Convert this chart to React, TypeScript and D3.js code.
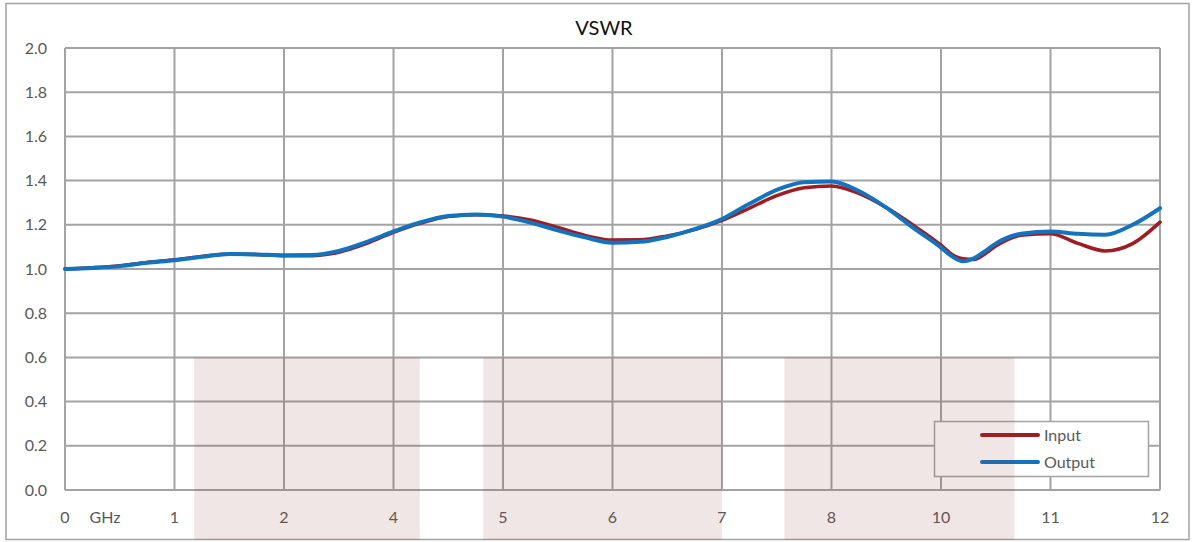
import { useEffect, useRef } from 'react';
import * as d3 from 'd3';

// x positions are category slots (0..10), labelled by xLabels
const xLabels = ['0', '1', '2', '4', '5', '6', '7', '8', '10', '11', '12'];
const yTicks = [0, 0.2, 0.4, 0.6, 0.8, 1.0, 1.2, 1.4, 1.6, 1.8, 2.0];

const slots = [
  0, 0.25, 0.5, 0.75, 1, 1.25, 1.5, 1.75, 2, 2.25, 2.5, 2.75, 3, 3.25, 3.5, 3.75,
  4, 4.25, 4.5, 4.75, 5, 5.25, 5.5, 5.75, 6, 6.25, 6.5, 6.75, 7, 7.25, 7.5, 7.75,
  8, 8.1, 8.2, 8.3, 8.4, 8.5, 8.75, 9, 9.25, 9.5, 9.75, 10,
];
const inputVswr = [
  1.0, 1.006, 1.015, 1.03, 1.042, 1.057, 1.068, 1.066, 1.06, 1.06, 1.076, 1.115,
  1.166, 1.208, 1.238, 1.245, 1.24, 1.222, 1.188, 1.152, 1.131, 1.132, 1.15, 1.178,
  1.22, 1.275, 1.332, 1.368, 1.376, 1.342, 1.278, 1.197, 1.108, 1.066, 1.046, 1.043,
  1.068, 1.104, 1.154, 1.16, 1.116, 1.082, 1.115, 1.212,
];
const outputVswr = [
  1.0, 1.005, 1.013, 1.028, 1.04, 1.055, 1.068, 1.066, 1.062, 1.063, 1.082, 1.122,
  1.17, 1.212, 1.24, 1.247, 1.237, 1.21, 1.175, 1.143, 1.119, 1.123, 1.145, 1.18,
  1.226, 1.295, 1.358, 1.393, 1.396, 1.353, 1.278, 1.185, 1.097, 1.057, 1.035, 1.048,
  1.08, 1.115, 1.161, 1.17, 1.159, 1.155, 1.2, 1.275,
];
const bands = [
  [1.18, 3.24],
  [3.82, 6.0],
  [6.57, 8.67],
];
const bandTop = 0.6;

const W = 1196;
const H = 542;
const FONT = 'Lato, "Liberation Sans", sans-serif';
const GRID = '#a3a3a3';

export default function App() {
  const svgRef = useRef<SVGSVGElement>(null);

  useEffect(() => {
    if (!svgRef.current) return;
    const svg = d3.select(svgRef.current);
    svg.selectAll('*').remove();

    const left = 65, right = 1160, top = 48, bottom = 490;
    const x = d3.scaleLinear().domain([0, 10]).range([left, right]);
    const y = d3.scaleLinear().domain([0, 2]).range([bottom, top]);

    // outer frame
    svg.append('rect')
      .attr('x', 6).attr('y', 3.5).attr('width', 1183).attr('height', 536)
      .attr('fill', '#fff').attr('stroke', GRID).attr('stroke-width', 1.5);

    svg.append('text')
      .attr('x', 604).attr('y', 35)
      .attr('text-anchor', 'middle')
      .style('font-family', FONT).style('font-size', '20px').style('fill', '#111')
      .text('VSWR');

    // grid
    const g = svg.append('g');
    yTicks.forEach(t => {
      g.append('line')
        .attr('x1', left).attr('x2', right).attr('y1', y(t)).attr('y2', y(t))
        .attr('stroke', GRID).attr('stroke-width', 2);
      g.append('text')
        .attr('x', 47).attr('y', y(t)).attr('dy', '0.35em')
        .attr('text-anchor', 'end')
        .style('font-family', FONT).style('font-size', '16px').style('fill', '#595959')
        .text(t.toFixed(1));
    });
    xLabels.forEach((lab, i) => {
      g.append('line')
        .attr('x1', x(i)).attr('x2', x(i)).attr('y1', top).attr('y2', bottom)
        .attr('stroke', GRID).attr('stroke-width', 2);
      g.append('text')
        .attr('x', x(i)).attr('y', 523)
        .attr('text-anchor', 'middle')
        .style('font-family', FONT).style('font-size', '16px').style('fill', '#595959')
        .text(lab);
    });
    g.append('text')
      .attr('x', 105).attr('y', 523)
      .attr('text-anchor', 'middle')
      .style('font-family', FONT).style('font-size', '16px').style('fill', '#595959')
      .text('GHz');

    // legend box
    const lg = svg.append('g');
    lg.append('rect')
      .attr('x', 934.5).attr('y', 421.5).attr('width', 214).attr('height', 55)
      .attr('fill', '#fff').attr('stroke', GRID).attr('stroke-width', 1.5);
    [['Input', '#a01c22', 435], ['Output', '#1273bf', 462]].forEach(([name, col, ly]) => {
      lg.append('line')
        .attr('x1', 982).attr('x2', 1038).attr('y1', ly as number).attr('y2', ly as number)
        .attr('stroke', col as string).attr('stroke-width', 4).attr('stroke-linecap', 'round');
      lg.append('text')
        .attr('x', 1044).attr('y', ly as number).attr('dy', '0.35em')
        .style('font-family', FONT).style('font-size', '16px').style('fill', '#595959')
        .text(name as string);
    });

    // shaded bands (translucent, over grid and frame)
    bands.forEach(([a, b]) => {
      svg.append('rect')
        .attr('x', x(a)).attr('width', x(b) - x(a))
        .attr('y', y(bandTop)).attr('height', 540 - y(bandTop))
        .attr('fill', 'rgb(150,60,60)').attr('fill-opacity', 0.13);
    });

    const line = (vals: number[]) => d3.line<number>()
      .x((_d, i) => x(slots[i]))
      .y(d => y(d))
      .curve(d3.curveMonotoneX)(vals);

    svg.append('path')
      .attr('d', line(inputVswr))
      .attr('fill', 'none').attr('stroke', '#a01c22').attr('stroke-width', 3.5)
      .attr('stroke-linecap', 'round');
    svg.append('path')
      .attr('d', line(outputVswr))
      .attr('fill', 'none').attr('stroke', '#1273bf').attr('stroke-width', 4)
      .attr('stroke-linecap', 'round');
  }, []);

  return (
    <svg ref={svgRef} width={W} height={H}
      style={{ position: 'absolute', left: 0, top: 0, background: '#fff' }} />
  );
}
